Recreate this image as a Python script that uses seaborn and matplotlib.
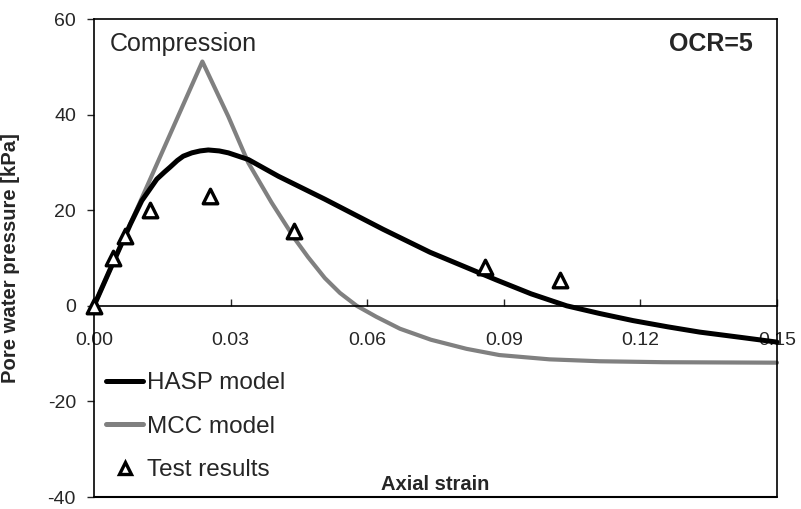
import matplotlib
matplotlib.use("Agg")
import matplotlib.pyplot as plt
import seaborn as sns
import pandas as pd
from matplotlib.lines import Line2D

# ---- data ----
hasp_strain = [0, 0.004, 0.008, 0.0105, 0.0119, 0.0138, 0.0155, 0.0167, 0.0183, 0.0196,
               0.0215, 0.0233, 0.0251, 0.0275, 0.0295, 0.0339, 0.0405, 0.0507, 0.0635,
               0.0738, 0.0884, 0.096, 0.1038, 0.111, 0.1184, 0.126, 0.133, 0.142, 0.15]
hasp_pwp = [0, 8.6, 17.1, 22.0, 23.9, 26.5, 28.0, 29.0, 30.4, 31.3,
            32.0, 32.4, 32.6, 32.4, 32.0, 30.6, 27.1, 22.3, 16.0,
            11.2, 5.4, 2.5, 0, -1.6, -3.1, -4.4, -5.5, -6.6, -7.6]

mcc_strain = [0, 0.0238, 0.0295, 0.0339, 0.039, 0.0441, 0.047, 0.0507, 0.054, 0.0577,
              0.062, 0.0672, 0.074, 0.0818, 0.089, 0.1, 0.111, 0.125, 0.15]
mcc_pwp = [0, 51.1, 39.6, 29.9, 21.6, 14.0, 10.2, 5.8, 2.7, 0,
           -2.3, -4.8, -7.1, -9.0, -10.3, -11.2, -11.6, -11.8, -11.9]

test_strain = [0.0, 0.0041, 0.0068, 0.0122, 0.0255, 0.044, 0.0859, 0.1023]
test_pwp = [0.0, 10.1, 14.5, 20.1, 23.0, 15.7, 8.1, 5.3]

x_ticks = [0.00, 0.03, 0.06, 0.09, 0.12, 0.15]
x_ticklabels = ["0.00", "0.03", "0.06", "0.09", "0.12", "0.15"]
y_ticks = [-40, -20, 0, 20, 40, 60]
y_ticklabels = ["-40", "-20", "0", "20", "40", "60"]

hasp_df = pd.DataFrame({"strain": hasp_strain, "pwp": hasp_pwp})
mcc_df = pd.DataFrame({"strain": mcc_strain, "pwp": mcc_pwp})
test_df = pd.DataFrame({"strain": test_strain, "pwp": test_pwp})

sns.set_style("white")
plt.rcParams["font.family"] = ["Liberation Sans", "DejaVu Sans"]
plt.rcParams["axes.unicode_minus"] = False

fig = plt.figure(figsize=(8.01, 5.09), dpi=100)
ax = fig.add_axes([94 / 801, 12 / 509, 683 / 801, 478 / 509])

sns.lineplot(data=mcc_df, x="strain", y="pwp", ax=ax, color="#808080",
             linewidth=3.0, sort=False, zorder=2, clip_on=False)
sns.lineplot(data=hasp_df, x="strain", y="pwp", ax=ax, color="black",
             linewidth=3.6, sort=False, zorder=3, clip_on=False)
sns.scatterplot(data=test_df, x="strain", y="pwp", ax=ax, marker="^", s=110,
                facecolor="white", edgecolor="black", linewidth=2.4, zorder=4,
                clip_on=False)

ax.set_xlim(0, 0.15)
ax.set_ylim(-40, 60)

# frame
for side in ["left", "top", "right"]:
    ax.spines[side].set_visible(True)
    ax.spines[side].set_color("black")
    ax.spines[side].set_linewidth(1.2)
ax.spines["bottom"].set_position(("data", 0))
ax.spines["bottom"].set_color("black")
ax.spines["bottom"].set_linewidth(1.2)
ax.axhline(-40, color="black", linewidth=1.5, clip_on=False, zorder=1)

ax.set_xticks(x_ticks)
ax.set_xticklabels(x_ticklabels)
ax.set_yticks(y_ticks)
ax.set_yticklabels(y_ticklabels)
ax.tick_params(axis="x", direction="in", length=5, width=1, pad=19,
               labelsize=14, bottom=True)
ax.tick_params(axis="y", direction="out", length=5, width=1, pad=8,
               labelsize=14, left=True)

ax.set_xlabel("Axial strain", fontsize=14.5, fontweight="bold")
ax.xaxis.set_label_coords(0.5, 0.045)
ax.set_ylabel("Pore water pressure [kPa]", fontsize=14.6, fontweight="bold")
ax.yaxis.set_label_coords(-0.108, 0.5)

ax.text(0.0035, 53.4, "Compression", fontsize=18, ha="left", va="baseline")
ax.text(0.1447, 53.3, "OCR=5", fontsize=18, fontweight="bold", ha="right",
        va="baseline")

handles = [
    Line2D([], [], color="black", linewidth=3.6),
    Line2D([], [], color="#808080", linewidth=3.6),
    Line2D([], [], linestyle="none", marker="^", markersize=8,
           markerfacecolor="white", markeredgecolor="black", markeredgewidth=2.4),
]
labels = ["HASP model", "MCC model", "Test results"]
ax.legend(handles, labels, loc="upper left", bbox_to_anchor=(0.018, 0.261),
          frameon=False, fontsize=17.5, handlelength=1.5, handletextpad=0.17,
          labelspacing=0.88, borderpad=0, borderaxespad=0)

fig.savefig("out.png", dpi=100)
